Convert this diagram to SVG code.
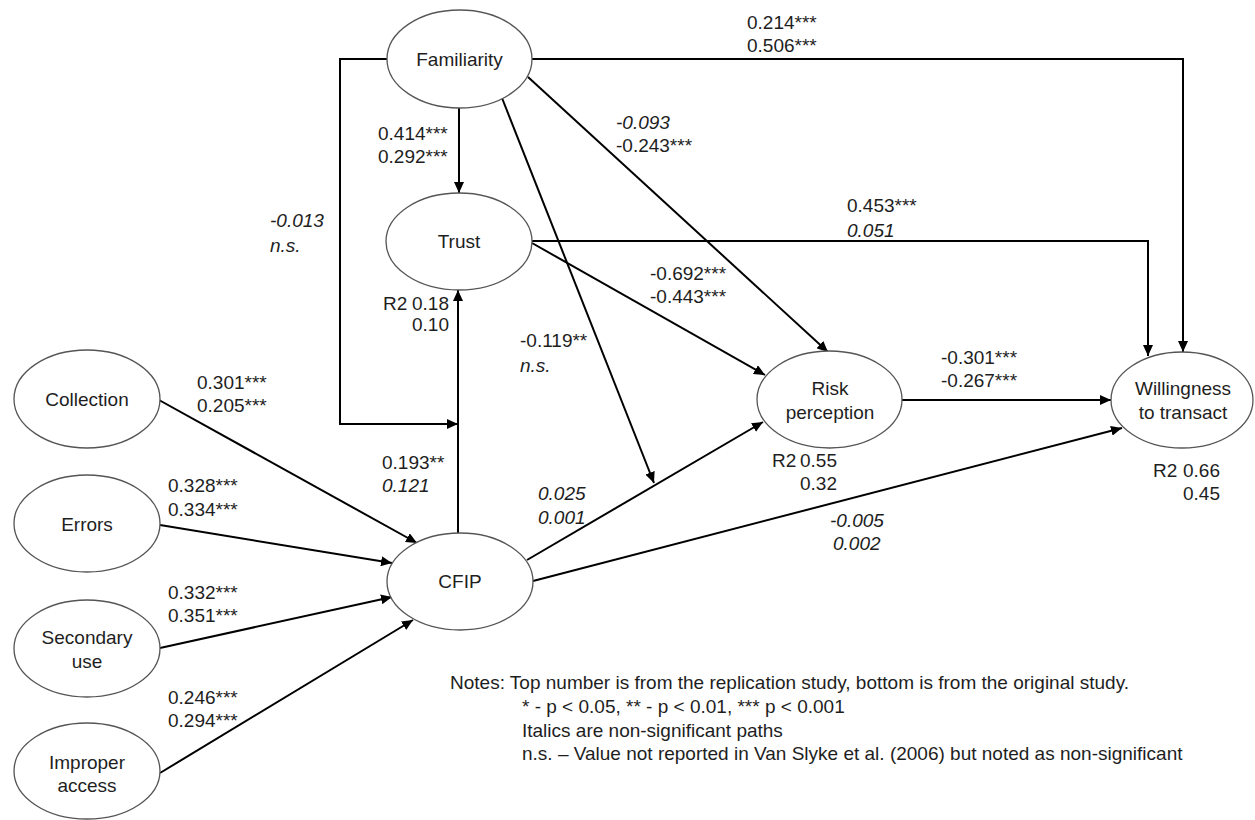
<svg xmlns="http://www.w3.org/2000/svg" width="1255" height="820" viewBox="0 0 1255 820">
<style>
.node ellipse{fill:#fff;stroke:#555;stroke-width:1.3}
text{font-family:"Liberation Sans",Arial,sans-serif;font-size:19px;fill:#1e1e1e}
.nt{text-anchor:middle}
.it{font-style:italic}
.edge{fill:none;stroke:#000;stroke-width:2;marker-end:url(#ah)}
</style>
<defs>
<marker id="ah" markerUnits="userSpaceOnUse" markerWidth="12" markerHeight="10" refX="11" refY="5" orient="auto">
<path d="M0,0 L11,5 L0,10 z" fill="#000"/>
</marker>
</defs>
<rect width="1255" height="820" fill="#fff"/>
<g id="connectors">
<path class="edge" d="M459,108 V193"/>
<path class="edge" d="M387,59 H340 V424 H458"/>
<path class="edge" d="M458,533 V290"/>
<path class="edge" d="M532,59 H1183 V352"/>
<path class="edge" d="M532,241 H1148 V356"/>
<path class="edge" d="M528,77 L828,352"/>
<path class="edge" d="M532,243 L765,375"/>
<path class="edge" d="M502,98 L654,483"/>
<path class="edge" d="M527,560 L763,422"/>
<path class="edge" d="M533,581 L1122,428"/>
<path class="edge" d="M902,400 H1111"/>
<path class="edge" d="M159,400 L417,543"/>
<path class="edge" d="M160,525 L392,563"/>
<path class="edge" d="M160,648 L392,597"/>
<path class="edge" d="M160,773 L413,620"/>
</g>
<g id="familiarity" class="node"><ellipse cx="459.5" cy="59" rx="72.5" ry="49"/><text class="nt" x="459.5" y="66">Familiarity</text></g>
<g id="trust" class="node"><ellipse cx="459" cy="241.5" rx="73" ry="48.5"/><text class="nt" x="459" y="248">Trust</text></g>
<g id="cfip" class="node"><ellipse cx="460" cy="581.5" rx="73" ry="48.5"/><text class="nt" x="460" y="588">CFIP</text></g>
<g id="collection" class="node"><ellipse cx="87" cy="399" rx="73" ry="49"/><text class="nt" x="87" y="406">Collection</text></g>
<g id="errors" class="node"><ellipse cx="87" cy="523.5" rx="73" ry="48.5"/><text class="nt" x="87" y="531">Errors</text></g>
<g id="secondary-use" class="node"><ellipse cx="87" cy="648.5" rx="73" ry="48.5"/><text class="nt" x="87" y="644">Secondary</text><text class="nt" x="87" y="668">use</text></g>
<g id="improper-access" class="node"><ellipse cx="87" cy="771" rx="73" ry="48"/><text class="nt" x="87" y="769">Improper</text><text class="nt" x="87" y="792">access</text></g>
<g id="risk-perception" class="node"><ellipse cx="829.5" cy="399.5" rx="72.5" ry="48.5"/><text class="nt" x="830" y="395">Risk</text><text class="nt" x="830" y="419">perception</text></g>
<g id="willingness" class="node"><ellipse cx="1182" cy="400" rx="71" ry="48"/><text class="nt" x="1183" y="395">Willingness</text><text class="nt" x="1183" y="419">to transact</text></g>
<g id="labels">
<text x="747" y="29">0.214***</text><text x="747" y="52">0.506***</text>
<text x="378" y="140">0.414***</text><text x="378" y="163">0.292***</text>
<text class="it" x="616" y="129">-0.093</text><text x="616" y="152">-0.243***</text>
<text class="it" x="270" y="227">-0.013</text><text class="it" x="270" y="252">n.s.</text>
<text x="847" y="212">0.453***</text><text class="it" x="847" y="237">0.051</text>
<text x="650" y="280">-0.692***</text><text x="650" y="303">-0.443***</text>
<text x="383" y="310">R2<tspan x="412">0.18</tspan></text><text x="412" y="331">0.10</text>
<text x="520" y="347">-0.119**</text><text class="it" x="520" y="372">n.s.</text>
<text x="941" y="364">-0.301***</text><text x="941" y="387">-0.267***</text>
<text x="772" y="467">R2<tspan x="800">0.55</tspan></text><text x="800" y="490">0.32</text>
<text x="1153" y="477">R2<tspan x="1183">0.66</tspan></text><text x="1183" y="500">0.45</text>
<text x="382" y="469">0.193**</text><text class="it" x="382" y="492">0.121</text>
<text class="it" x="538" y="500">0.025</text><text class="it" x="538" y="524">0.001</text>
<text class="it" x="830" y="527">-0.005</text><text class="it" x="833" y="550">0.002</text>
<text x="197" y="389">0.301***</text><text x="197" y="412">0.205***</text>
<text x="168" y="492">0.328***</text><text x="168" y="516">0.334***</text>
<text x="168" y="599">0.332***</text><text x="168" y="622">0.351***</text>
<text x="168" y="704">0.246***</text><text x="168" y="727">0.294***</text>
</g>
<g id="notes">
<text x="450" y="689">Notes: Top number is from the replication study, bottom is from the original study.</text>
<text x="522" y="713">* - p &lt; 0.05, ** - p &lt; 0.01, *** p &lt; 0.001</text>
<text x="522" y="737">Italics are non-significant paths</text>
<text x="522" y="760">n.s. – Value not reported in Van Slyke et al. (2006) but noted as non-significant</text>
</g>
</svg>
